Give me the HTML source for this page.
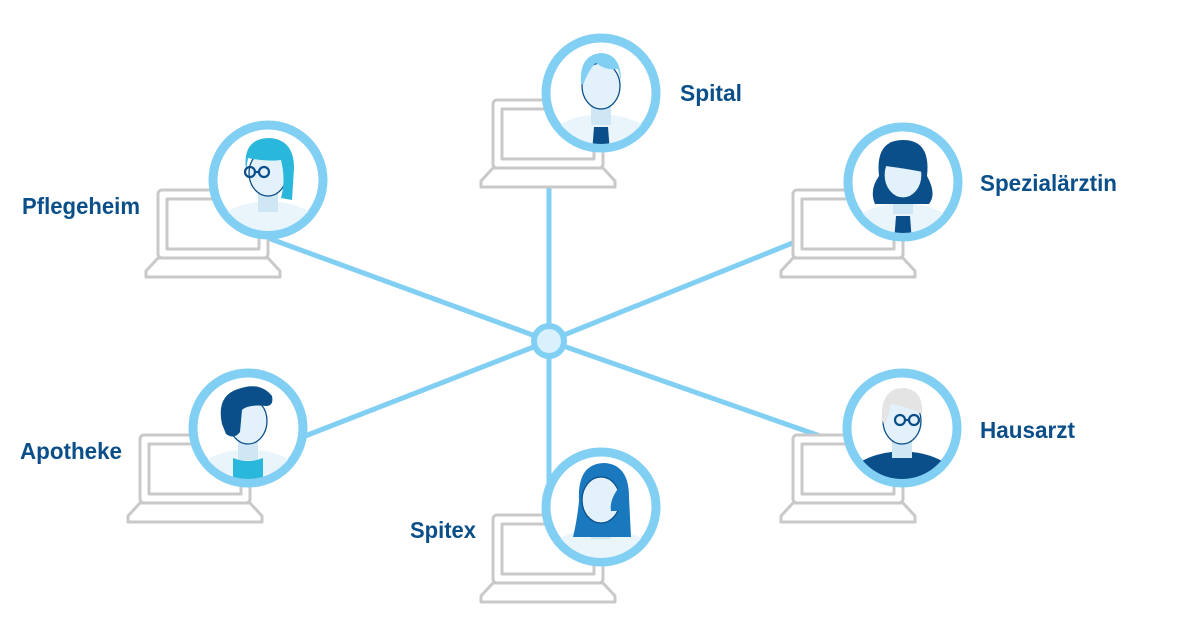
<!DOCTYPE html>
<html><head><meta charset="utf-8"><style>
html,body{margin:0;padding:0;background:#fff;width:1200px;height:631px;overflow:hidden}
text{font-family:"Liberation Sans",sans-serif;font-weight:bold;fill:#0b4f8a;font-size:23px}
</style></head><body>
<svg width="1200" height="631" viewBox="0 0 1200 631" xmlns="http://www.w3.org/2000/svg">
<defs>
<g id="lap" fill="#fff" stroke="#c9c9c9" stroke-width="3" stroke-linejoin="round">
<rect x="0" y="0" width="110" height="68" rx="4"/>
<rect x="9" y="9" width="92" height="50"/>
<path d="M0 68 L-12 81 L-12 87 L122 87 L122 81 L110 68 Z"/>
</g>
<clipPath id="cc"><circle cx="0" cy="0" r="51"/></clipPath>
<g id="body">
<path d="M-50 60 L-45 34 Q-30 24 -10 22 L10 22 Q30 24 45 34 L50 60 Z" fill="#eaf4fb"/>
<rect x="-10" y="8" width="20" height="24" fill="#cfe6f4"/>
</g>
<g id="head"><ellipse cx="0" cy="-7" rx="19" ry="23" fill="#e3f1fa" stroke="#0b4f8a" stroke-width="1.3"/></g>
<g id="glasses" fill="none" stroke="#0b4f8a" stroke-width="2.2"><circle cx="-6" cy="-8" r="5"/><circle cx="8" cy="-8" r="5"/><path d="M-1 -8 L3 -8"/></g>
</defs>

<g stroke="#82cff4" stroke-width="5" stroke-linecap="round">
<line x1="549" y1="341" x2="549" y2="180"/>
<line x1="549" y1="341" x2="268" y2="238"/>
<line x1="549" y1="341" x2="800" y2="240"/>
<line x1="549" y1="341" x2="300" y2="438"/>
<line x1="549" y1="341" x2="820" y2="436"/>
<line x1="549" y1="341" x2="549" y2="500"/>
</g>
<circle cx="549" cy="341" r="15" fill="#d9f1fc" stroke="#82cff4" stroke-width="6"/>

<use href="#lap" x="493" y="100"/>
<use href="#lap" x="158" y="190"/>
<use href="#lap" x="793" y="190"/>
<use href="#lap" x="140" y="435"/>
<use href="#lap" x="793" y="435"/>
<use href="#lap" x="493" y="515"/>

<!-- Spital -->
<g transform="translate(601,93)">
<circle r="55" fill="#fff" stroke="#82cff4" stroke-width="9"/>
<g clip-path="url(#cc)"><use href="#body"/><path d="M-7 34 L7 34 L9 60 L-9 60Z" fill="#0b4f8a"/><use href="#head"/>
<path d="M-20 -10 Q-22 -38 0 -40 Q20 -39 20 -12 L17 -24 Q5 -22 -5 -30 Q-12 -24 -18 -8Z" fill="#82cff4"/></g>
</g>
<!-- Pflegeheim -->
<g transform="translate(268,180)">
<circle r="55" fill="#fff" stroke="#82cff4" stroke-width="9"/>
<g clip-path="url(#cc)"><use href="#body"/><use href="#head"/>
<path d="M-22 -10 Q-26 -42 2 -42 Q26 -40 26 -12 L24 20 L13 18 Q18 0 13 -20 Q-2 -18 -20 -22Z" fill="#29b8dc"/>
<use href="#glasses" x="-12"/></g>
</g>
<!-- Spezialärztin -->
<g transform="translate(903,182)">
<circle r="55" fill="#fff" stroke="#82cff4" stroke-width="9"/>
<g clip-path="url(#cc)"><use href="#body"/><path d="M-7 34 L7 34 L9 60 L-9 60Z" fill="#0b4f8a"/>
<path d="M-24 -6 Q-28 -42 0 -42 Q28 -42 24 -6 Q34 12 26 22 L-28 22 Q-34 8 -24 -6Z" fill="#0b4f8a"/>
<use href="#head"/><path d="M-18 -16 Q-12 -38 6 -36 Q18 -32 20 -10 Q0 -14 -18 -16Z" fill="#0b4f8a"/></g>
</g>
<!-- Apotheke -->
<g transform="translate(248,428)">
<circle r="55" fill="#fff" stroke="#82cff4" stroke-width="9"/>
<g clip-path="url(#cc)"><use href="#body"/><path d="M-15 30 Q0 36 15 30 L15 60 L-15 60Z" fill="#29b8dc"/><use href="#head"/>
<path d="M-26 -4 Q-32 -32 -10 -39 Q12 -47 24 -32 Q26 -22 18 -22 Q0 -24 -6 -18 L-8 4 Q-14 12 -22 6Z" fill="#0b4f8a"/></g>
</g>
<!-- Hausarzt -->
<g transform="translate(902,428)">
<circle r="55" fill="#fff" stroke="#82cff4" stroke-width="9"/>
<g clip-path="url(#cc)"><path d="M-50 60 L-45 36 Q-30 26 -10 24 L10 24 Q30 26 45 36 L50 60Z" fill="#0b4f8a"/><rect x="-10" y="8" width="20" height="22" fill="#cfe6f4"/><use href="#head"/>
<path d="M-20 -8 Q-22 -40 2 -40 Q22 -38 20 -14 Q4 -22 -12 -24 Q-12 -12 -18 -4Z" fill="#e4e4e4"/><use href="#glasses" x="4"/></g>
</g>
<!-- Spitex -->
<g transform="translate(601,507)">
<circle r="55" fill="#fff" stroke="#82cff4" stroke-width="9"/>
<g clip-path="url(#cc)"><use href="#body"/>
<path d="M-22 -6 Q-24 -44 4 -44 Q28 -42 28 -10 L30 30 L-28 30 Q-24 14 -22 -6Z" fill="#1a78bf"/>
<use href="#head"/><path d="M-8 -30 Q10 -40 20 -22 Q8 -8 10 4 L20 4 Q22 -32 4 -36Z" fill="#1a78bf"/></g>
</g>

<text x="680" y="101" textLength="62" lengthAdjust="spacingAndGlyphs">Spital</text>
<text x="22" y="214" textLength="118" lengthAdjust="spacingAndGlyphs">Pflegeheim</text>
<text x="980" y="191" textLength="137" lengthAdjust="spacingAndGlyphs">Spezialärztin</text>
<text x="20" y="459" textLength="102" lengthAdjust="spacingAndGlyphs">Apotheke</text>
<text x="980" y="438" textLength="95" lengthAdjust="spacingAndGlyphs">Hausarzt</text>
<text x="410" y="538" textLength="66" lengthAdjust="spacingAndGlyphs">Spitex</text>
</svg>
</body></html>
